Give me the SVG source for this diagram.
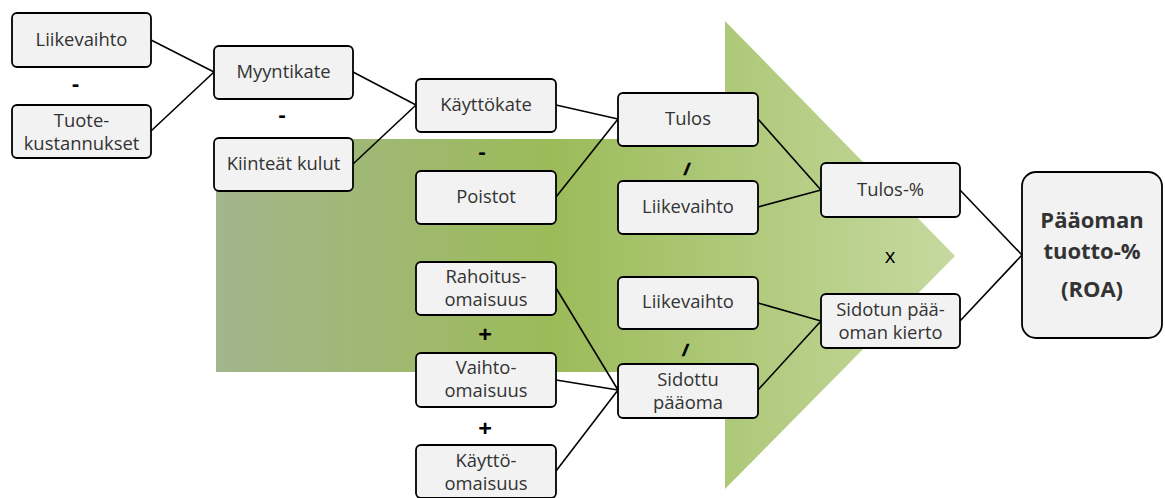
<svg xmlns="http://www.w3.org/2000/svg" width="1165" height="498" viewBox="0 0 1165 498">
  <defs>
    <linearGradient id="flow" gradientUnits="userSpaceOnUse" x1="216" y1="0" x2="955" y2="0">
      <stop offset="0" stop-color="#a3b58c"/>
      <stop offset="0.45" stop-color="#9bbb59"/>
      <stop offset="1" stop-color="#c6d9a0"/>
    </linearGradient>
  </defs>
  <style>
    .box { fill: #f2f2f2; stroke: #000; stroke-width: 1.8; }
    .lbl { font-family: "Open Sans", "Noto Sans", sans-serif; font-size: 18.4px; fill: #333; text-anchor: middle; }
    .big { font-family: "Open Sans", "Noto Sans", sans-serif; font-size: 22px; font-weight: bold; fill: #333; text-anchor: middle; }
    .op { font-family: "Open Sans", "Noto Sans", sans-serif; font-weight: bold; fill: #000; text-anchor: middle; }
    .minus { font-size: 22px; }
    .plus { font-size: 24px; }
    .div { font-family: "Liberation Sans", Arial, sans-serif; font-size: 17px; font-style: italic; stroke: #000; stroke-width: 0.7; }
    .times { font-family: "Open Sans", "Noto Sans", sans-serif; font-size: 20.5px; fill: #000; text-anchor: middle; }
    .conn line { stroke: #000; stroke-width: 1.6; }
  </style>

  <!-- background flow arrow -->
  <path d="M216 139 H725 V21 L955 256 L725 489 V372 H216 Z" fill="url(#flow)"/>

  <!-- connectors -->
  <g class="conn">
    <line x1="151" y1="40" x2="214" y2="72"/>
    <line x1="151" y1="131" x2="214" y2="72"/>
    <line x1="353" y1="72" x2="416" y2="105"/>
    <line x1="353" y1="164" x2="416" y2="105"/>
    <line x1="556" y1="105" x2="618" y2="119"/>
    <line x1="556" y1="197" x2="618" y2="119"/>
    <line x1="758" y1="119" x2="821" y2="190"/>
    <line x1="758" y1="207" x2="821" y2="190"/>
    <line x1="758" y1="303" x2="821" y2="321"/>
    <line x1="758" y1="390" x2="821" y2="321"/>
    <line x1="556" y1="288" x2="618" y2="390"/>
    <line x1="556" y1="380" x2="618" y2="390"/>
    <line x1="556" y1="471" x2="618" y2="390"/>
    <line x1="960" y1="190" x2="1022" y2="255"/>
    <line x1="960" y1="321" x2="1022" y2="255"/>
  </g>

  <!-- operators -->
  <g id="operators">
    <text class="op minus" x="75.5" y="90.5">-</text>
    <text class="op minus" x="282" y="122">-</text>
    <text class="op minus" x="482" y="159">-</text>
    <text class="op div" x="686.5" y="175">/</text>
    <text class="op div" x="685" y="356">/</text>
    <text class="op plus" x="485" y="342.5">+</text>
    <text class="op plus" x="485" y="436.5">+</text>
    <text class="times" x="890" y="263">x</text>
  </g>

  <g id="liikevaihto1">
    <rect class="box" x="12" y="13" width="139" height="54" rx="5"/>
    <text class="lbl" x="81.5" y="46">Liikevaihto</text>
  </g>
  <g id="tuotekustannukset">
    <rect class="box" x="12" y="105" width="139" height="53" rx="5"/>
    <text class="lbl" x="81.5" y="127">Tuote-</text>
    <text class="lbl" x="81.5" y="150">kustannukset</text>
  </g>
  <g id="myyntikate">
    <rect class="box" x="214" y="46" width="139" height="53" rx="5"/>
    <text class="lbl" x="283.5" y="78">Myyntikate</text>
  </g>
  <g id="kiinteat-kulut">
    <rect class="box" x="214" y="138" width="139" height="53" rx="5"/>
    <text class="lbl" x="283.5" y="170">Kiinteät kulut</text>
  </g>
  <g id="kayttokate">
    <rect class="box" x="416" y="79" width="140" height="53" rx="5"/>
    <text class="lbl" x="486" y="111">Käyttökate</text>
  </g>
  <g id="poistot">
    <rect class="box" x="416" y="171" width="140" height="53" rx="5"/>
    <text class="lbl" x="486" y="203">Poistot</text>
  </g>
  <g id="tulos">
    <rect class="box" x="618" y="93" width="140" height="53" rx="5"/>
    <text class="lbl" x="688" y="125">Tulos</text>
  </g>
  <g id="liikevaihto2">
    <rect class="box" x="618" y="181" width="140" height="53" rx="5"/>
    <text class="lbl" x="688" y="213">Liikevaihto</text>
  </g>
  <g id="rahoitusomaisuus">
    <rect class="box" x="416" y="262" width="140" height="53" rx="5"/>
    <text class="lbl" x="486" y="283">Rahoitus-</text>
    <text class="lbl" x="486" y="306">omaisuus</text>
  </g>
  <g id="vaihto-omaisuus">
    <rect class="box" x="416" y="353" width="140" height="54" rx="5"/>
    <text class="lbl" x="486" y="374">Vaihto-</text>
    <text class="lbl" x="486" y="397">omaisuus</text>
  </g>
  <g id="kayttoomaisuus">
    <rect class="box" x="416" y="445" width="140" height="53" rx="5"/>
    <text class="lbl" x="486" y="467">Käyttö-</text>
    <text class="lbl" x="486" y="490">omaisuus</text>
  </g>
  <g id="liikevaihto3">
    <rect class="box" x="618" y="277" width="140" height="52" rx="5"/>
    <text class="lbl" x="688" y="308">Liikevaihto</text>
  </g>
  <g id="sidottu-paaoma">
    <rect class="box" x="618" y="364" width="140" height="54" rx="5"/>
    <text class="lbl" x="688" y="386">Sidottu</text>
    <text class="lbl" x="688" y="409">pääoma</text>
  </g>
  <g id="tulosprosentti">
    <rect class="box" x="821" y="163" width="139" height="54" rx="5"/>
    <text class="lbl" x="890.5" y="196">Tulos-%</text>
  </g>
  <g id="paaoman-kierto">
    <rect class="box" x="821" y="294" width="139" height="54" rx="5"/>
    <text class="lbl" x="890.5" y="316">Sidotun pää-</text>
    <text class="lbl" x="890.5" y="339">oman kierto</text>
  </g>
  <g id="roa">
    <rect class="box" x="1022" y="172" width="140" height="166" rx="14"/>
    <text class="big" x="1092" y="228">Pääoman</text>
    <text class="big" x="1092" y="259">tuotto-%</text>
    <text class="big" x="1092" y="297">(ROA)</text>
  </g>
</svg>
